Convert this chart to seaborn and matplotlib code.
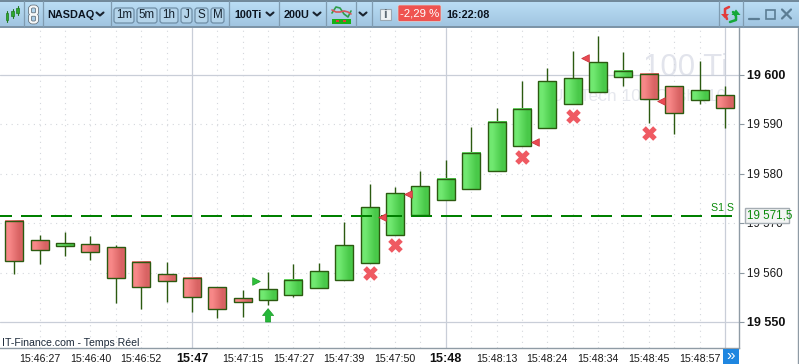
import numpy as np
import pandas as pd
import seaborn as sns
import matplotlib.pyplot as plt
from matplotlib.patches import FancyBboxPatch, Rectangle, Polygon

# candles, oldest first
opens = [19570.4, 19566.5, 19565.4, 19565.7, 19565.1, 19562.1, 19559.7, 19559.0, 19557.0, 19554.8,
         19554.4, 19555.5, 19556.9, 19558.6, 19562.0, 19567.7, 19571.7, 19574.6, 19576.9, 19580.5,
         19585.6, 19589.3, 19594.1, 19596.6, 19599.5, 19600.3, 19597.7, 19595.0, 19595.9]
closes = [19562.3, 19564.6, 19565.9, 19564.2, 19559.0, 19557.0, 19558.4, 19555.0, 19552.6, 19554.0,
          19556.6, 19558.6, 19560.3, 19565.5, 19573.2, 19576.1, 19577.5, 19578.9, 19584.2, 19590.5,
          19593.1, 19598.7, 19599.3, 19602.6, 19600.9, 19595.2, 19592.4, 19596.9, 19593.3]
highs = [19570.4, 19567.6, 19568.2, 19567.4, 19565.5, 19562.1, 19562.1, 19559.0, 19557.0, 19556.5,
         19560.1, 19561.7, 19561.9, 19570.2, 19577.9, 19577.3, 19580.6, 19582.8, 19589.5, 19593.3,
         19598.8, 19601.4, 19604.9, 19607.9, 19604.7, 19600.3, 19597.7, 19602.8, 19597.8]
lows = [19559.7, 19561.7, 19563.4, 19562.6, 19553.9, 19552.7, 19554.0, 19552.0, 19550.8, 19551.1,
        19553.4, 19555.1, 19556.9, 19558.6, 19562.0, 19567.7, 19571.7, 19574.6, 19576.9, 19580.5,
        19585.6, 19589.3, 19594.1, 19596.6, 19597.8, 19590.3, 19588.1, 19594.2, 19589.3]

cross_idx = [14, 15, 20, 22, 25]
cross_price = [19559.9, 19565.5, 19583.3, 19591.8, 19588.2]
sell_idx = [14.5, 15.5, 20.5, 22.5, 25.5]
sell_price = [19571.2, 19575.9, 19586.4, 19603.4, 19594.7]
buy_idx = [9.53]
buy_price = [19558.2]
arrow_idx = [10]
arrow_price = [19551.3]
level = 19571.5

x_tick_idx = [1, 3, 5, 7, 9, 11, 13, 15, 17, 19, 21, 23, 25, 27]
x_tick_labels = ['15:46:27', '15:46:40', '15:46:52', '15:47', '15:47:15', '15:47:27', '15:47:39',
                 '15:47:50', '15:48', '15:48:13', '15:48:24', '15:48:34', '15:48:45', '15:48:57']
bold_x = ['15:47', '15:48']
strong_v = [7, 17, 28]
y_ticks = [19550, 19560, 19570, 19580, 19590, 19600]
y_labels = ['19 550', '19 560', '19 570', '19 580', '19 590', '19 600']
strong_h = [19550, 19600]

W, H = 799, 364
LEFT, RIGHT, TOP, BOTTOM = 0, 739, 28, 348
GRID = '#c9ced8'
WICK = '#2b5a10'
TEXT = '#1a1a1a'

sns.set_style('white')
plt.rcParams['font.family'] = ['Liberation Sans', 'DejaVu Sans']

df = pd.DataFrame({'i': np.arange(len(opens)), 'open': opens, 'close': closes, 'high': highs, 'low': lows})
df['body_low'] = df[['open', 'close']].min(axis=1)
df['body'] = (df['open'] - df['close']).abs()
df['up'] = df['close'] >= df['open']

fig = plt.figure(figsize=(W / 100, H / 100), dpi=100, facecolor='white')
ax = fig.add_axes([LEFT / W, 1 - BOTTOM / H, (RIGHT - LEFT) / W, (BOTTOM - TOP) / H])

# grid first so everything else sits on top of it
for i in range(1, len(opens)):
    if i not in strong_v:
        ax.axvline(i, color='#d4d7dc', lw=0.8, ls=(0, (1, 4)), zorder=1)
for i in strong_v:
    ax.axvline(i, color=GRID, lw=0.9, zorder=1)
for y in y_ticks:
    if y in strong_h:
        ax.axhline(y, color=GRID, lw=0.9, zorder=1)
    else:
        ax.axhline(y, color='#d4d7dc', lw=0.8, ls=(0, (1, 4)), zorder=1)

# watermark behind the candles
ax_bg = fig.add_axes([0, 0, 1, 1], facecolor='none', zorder=3)
ax_bg.set_xlim(0, W)
ax_bg.set_ylim(H, 0)
ax_bg.axis('off')
ax.set_zorder(4)
ax.patch.set_alpha(0)
ax_bg.text(728, 68.5, '100 Ti', fontsize=22.5, color='#e2e4ec', ha='right', va='center')
ax_bg.text(726, 97, 'US Tech 100 Cash (10', fontsize=12.5, color='#e6e8ee', ha='right', va='center')

# support level runs over the candles
sns.lineplot(x=[-0.5635, 28.6], y=[level, level], ax=ax, color='#008000', lw=1.44, zorder=8,
             linestyle=(4.5, (10.5, 4.5)), dash_capstyle='butt', errorbar=None)

ax.vlines(df['i'], df['low'], df['high'], color=WICK, lw=1.0, zorder=4)

# gradient fill for the bodies, outline comes from the seaborn bars
red_grad = np.array([[[0.97, 0.53, 0.53], [0.85, 0.39, 0.39]]])
green_grad = np.array([[[0.44, 0.91, 0.44], [0.29, 0.79, 0.29]]])
half = 0.355
for _, r in df.iterrows():
    ax.imshow(green_grad if r['up'] else red_grad, extent=(r['i'] - half, r['i'] + half, r['body_low'], r['body_low'] + r['body']),
              aspect='auto', zorder=5, interpolation='bilinear')
sns.barplot(data=df, x='i', y='body', bottom=df['body_low'].values, native_scale=True, width=0.71, fill=False,
            errorbar=None, ax=ax, color=WICK, linewidth=1.0, zorder=6)

# signals
sns.scatterplot(x=cross_idx, y=cross_price, ax=ax, marker='X', s=110, color='#ef5a62', linewidth=0, zorder=7)
sns.scatterplot(x=sell_idx, y=sell_price, ax=ax, marker='<', s=30, color='#ea4a52', edgecolor='#c62f38', linewidth=0.5, zorder=9)
sns.scatterplot(x=buy_idx, y=buy_price, ax=ax, marker='>', s=30, color='#2fc13a', edgecolor='#1c9c28', linewidth=0.5, zorder=7)
for xa, ya in zip(arrow_idx, arrow_price):
    ax.add_patch(Polygon([(xa, ya + 1.4), (xa + 0.22, ya), (xa + 0.1, ya), (xa + 0.1, ya - 1.3),
                          (xa - 0.1, ya - 1.3), (xa - 0.1, ya), (xa - 0.22, ya)],
                         closed=True, facecolor='#25b83a', edgecolor='#1c9c28', lw=0.5, zorder=7))

ax.set_xlim(-14.3 / 25.38, (RIGHT - 14.3) / 25.38)
ax.set_ylim(19550 - (BOTTOM - 322) / 4.94, 19550 + (322 - TOP) / 4.94)
ax.set_xlabel('')
ax.set_ylabel('')
ax.set_xticks(df['i'])
ax.set_xticklabels([])
ax.yaxis.tick_right()
ax.set_yticks(y_ticks)
ax.set_yticklabels([])
ax.tick_params(axis='both', length=3.5, width=0.8, color='#8c98a2', pad=2)
for name in ['left', 'top']:
    ax.spines[name].set_visible(False)
for name in ['right', 'bottom']:
    ax.spines[name].set_color('#8f9ba5')
    ax.spines[name].set_linewidth(1.0)

# overlay for all the chrome, in pixels
ov = fig.add_axes([0, 0, 1, 1], facecolor='none', zorder=10)
ov.set_xlim(0, W)
ov.set_ylim(H, 0)
ov.axis('off')

for i, lab in zip(x_tick_idx, x_tick_labels):
    px = 14.3 + 25.38 * i
    if lab in bold_x:
        ov.text(px, 358.5, lab, ha='center', va='center', fontsize=9, fontweight='bold', color='#111111')
    else:
        ov.text(px, 358.5, lab, ha='center', va='center', fontsize=7.7, color=TEXT)
for val, lab in zip(y_ticks, y_labels):
    py = 322 - (val - 19550) * 4.94 + 1
    if val in strong_h:
        ov.text(747, py, lab, ha='left', va='center', fontsize=9, fontweight='bold', color='#111111', zorder=3)
    else:
        ov.text(747, py, lab, ha='left', va='center', fontsize=8.4, color=TEXT, zorder=3)

ov.text(2, 343, 'IT-Finance.com - Temps Réel', ha='left', va='center', fontsize=7.6, color='#1d2a3a')
ov.text(734, 208, 'S1 S', ha='right', va='center', fontsize=7.6, color='#0a8a0a')
ov.add_patch(Rectangle((744.5, 208), 44.5, 15, fc='#f3f4f4', ec='#a5adb3', lw=1.0, zorder=5))
ov.text(747, 216, '19 571,5', ha='left', va='center', fontsize=8.4, color='#0a8a0a', zorder=6)

# blue scroll button + window edge
ov.add_patch(Rectangle((723, 349), 16, 15, fc='#1f86e0', ec='none'))
ov.text(731, 356, '»', ha='center', va='center', fontsize=11, color='white')
ov.plot([798, 798], [28, 364], color='#8f9ba5', lw=1)

# toolbar
grad = np.linspace(0, 1, 28)[:, None, None]
bar = np.array([0.73, 0.87, 0.96]) * (1 - grad) + np.array([0.63, 0.77, 0.88]) * grad
ov.imshow(bar, extent=(0, W, 27, 1), aspect='auto', zorder=1)
ov.set_xlim(0, W)
ov.set_ylim(H, 0)
ov.plot([0, W], [0.7, 0.7], color='#6f8799', lw=1.4, zorder=2)
ov.plot([0, W], [27.3, 27.3], color='#7b93a6', lw=1.4, zorder=2)
for sx in [24, 43, 111, 229, 279, 326, 356, 372, 719, 743]:
    ov.plot([sx, sx], [1, 27], color='#7f9bb0', lw=0.9, zorder=2)

btn_labels = ['1m', '5m', '1h', 'J', 'S', 'M']
btn_x0 = [114, 137, 160, 181, 195, 211]
btn_x1 = [134, 157, 178, 192, 208, 224]
for lab, x0, x1 in zip(btn_labels, btn_x0, btn_x1):
    ov.add_patch(FancyBboxPatch((x0, 8), x1 - x0, 15, boxstyle='round,pad=0,rounding_size=2.5',
                                fc='#b4d4ea', ec='#6f8ea6', lw=0.9, zorder=3))
    ov.text((x0 + x1) / 2, 15.5, lab, ha='center', va='center', fontsize=8.4, color='#14202c', zorder=4)


def chevron(cx, cy=14):
    ov.plot([cx - 3.5, cx, cx + 3.5], [cy - 1.5, cy + 1.5, cy - 1.5], color='#1a2430', lw=1.5, zorder=4)


ov.text(47, 15, 'NASDAQ', ha='left', va='center', fontsize=7.8, fontweight='bold', color='#0c1420', zorder=4)
chevron(100)
ov.text(234, 15, '100Ti', ha='left', va='center', fontsize=7.8, fontweight='bold', color='#0c1420', zorder=4)
chevron(270)
ov.text(284, 15, '200U', ha='left', va='center', fontsize=7.8, fontweight='bold', color='#0c1420', zorder=4)
chevron(317)
chevron(363)

# candle icon top left
for cx, y0, y1, b0, b1 in [(7, 11, 22, 13, 20), (12.5, 9, 18, 11, 16), (17.5, 6, 15, 8, 13)]:
    ov.plot([cx, cx], [y0, y1], color='#1e7a1e', lw=0.8, zorder=4)
    ov.add_patch(Rectangle((cx - 1.3, b0), 2.6, b1 - b0, fc='#2ea82e', ec='#1e7a1e', lw=0.5, zorder=4))

# chain icon
for cy in [6.5, 14.5]:
    ov.add_patch(FancyBboxPatch((30, cy), 7, 8, boxstyle='round,pad=0,rounding_size=2.5', fc='none', ec='#5a6670', lw=2.6, zorder=4))
    ov.add_patch(FancyBboxPatch((30, cy), 7, 8, boxstyle='round,pad=0,rounding_size=2.5', fc='none', ec='#f5f7f8', lw=1.6, zorder=5))

# indicator icon
ov.plot([332, 336, 340, 344, 348, 351], [13, 7, 8, 14, 17, 11], color='#2e9e4a', lw=1.2, zorder=4)
ov.plot([332, 336, 340, 344, 348, 351], [10, 12, 12, 11, 12, 14], color='#d9565a', lw=1.2, zorder=4)
ov.add_patch(Rectangle((332, 19), 19, 4.5, fc='#17b017', ec='none', zorder=4))
for rx in [336, 343]:
    ov.add_patch(Rectangle((rx, 20), 3, 2, fc='#e23b3b', ec='none', zorder=5))

# info icon
ov.add_patch(Rectangle((380, 9), 11, 11, fc='#eef2f4', ec='#9aa8b2', lw=0.8, zorder=4))
ov.text(385.5, 14.5, 'i', ha='center', va='center', fontsize=9.5, fontweight='bold', color='#5f6b75', zorder=5)

# red badge and clock
ov.add_patch(FancyBboxPatch((398, 5), 43, 16.5, boxstyle='round,pad=0,rounding_size=1.5', fc='#ef5350', ec='#d9d9d9', lw=0.5, zorder=4))
ov.text(419.5, 14, '-2,29 %', ha='center', va='center', fontsize=8.2, color='white', zorder=5)
ov.text(446, 14.5, '16:22:08', ha='left', va='center', fontsize=7.8, fontweight='bold', color='#0c1420', zorder=4)

# refresh icon
ov.plot([729, 725, 725, 727], [7, 9, 14, 19], color='#e23b3b', lw=1.8, zorder=4)
ov.add_patch(Polygon([(721, 14), (729, 14), (725, 18.5)], fc='#e23b3b', ec='none', zorder=4))
ov.plot([733, 736, 736, 730], [12, 16, 20, 22], color='#15a83a', lw=1.8, zorder=4)
ov.add_patch(Polygon([(731.5, 15), (740.5, 15), (736, 9.5)], fc='#15a83a', ec='none', zorder=4))

# window buttons
ov.plot([749, 759], [19, 19], color='#5b7d94', lw=1.6, zorder=4)
ov.add_patch(Rectangle((766, 9.5), 8.5, 9.5, fc='none', ec='#5b7d94', lw=1.2, zorder=4))
ov.plot([782, 791], [9.5, 18.5], color='#5b7d94', lw=1.6, zorder=4)
ov.plot([782, 791], [18.5, 9.5], color='#5b7d94', lw=1.6, zorder=4)

fig.savefig('out.png', dpi=100)
plt.close(fig)
